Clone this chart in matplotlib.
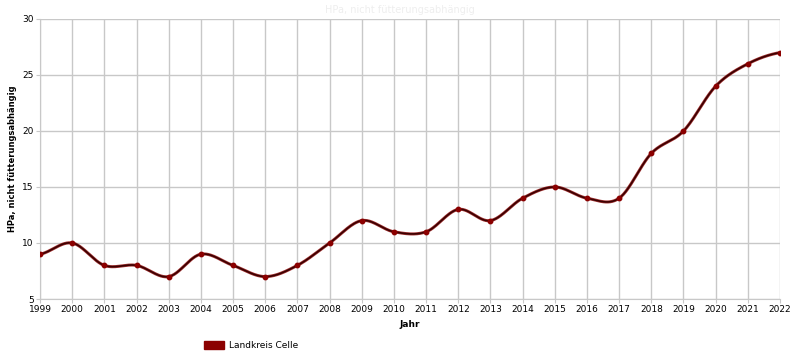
import numpy as np
import matplotlib.pyplot as plt
from matplotlib.patches import Patch

years = list(range(1999, 2023))
values = [9, 10, 8, 8, 7, 9, 8, 7, 8, 10, 12, 11, 11, 13, 12, 14, 15, 14, 14, 18, 20, 24, 26, 27]
series_name = "Landkreis Celle"
title = "HPa, nicht fütterungsabhängig"
ylabel = "HPa, nicht fütterungsabhängig"
xlabel = "Jahr"

line_color = "#3c0000"
marker_color = "#8b0000"

def spline_path(xs, ys, n=30):
    # Catmull-Rom style smooth curve through the points
    xs = np.asarray(xs, float); ys = np.asarray(ys, float)
    m = len(xs)
    tang = np.zeros(m)
    for i in range(m):
        if 0 < i < m-1:
            tang[i] = (ys[i+1] - ys[i-1]) / (xs[i+1] - xs[i-1])
        elif i == 0:
            tang[i] = (ys[1] - ys[0]) / (xs[1] - xs[0]) * 0.5
        else:
            tang[i] = (ys[-1] - ys[-2]) / (xs[-1] - xs[-2]) * 0.5
    X = []; Y = []
    t = np.linspace(0, 1, n)
    for i in range(m-1):
        h = xs[i+1] - xs[i]
        h00 = 2*t**3 - 3*t**2 + 1; h10 = t**3 - 2*t**2 + t
        h01 = -2*t**3 + 3*t**2; h11 = t**3 - t**2
        yy = h00*ys[i] + h10*h*tang[i] + h01*ys[i+1] + h11*h*tang[i+1]
        X.extend(xs[i] + t*h); Y.extend(yy)
    return np.array(X), np.array(Y)

fig = plt.figure(figsize=(8, 3.63), dpi=100)
ax = fig.add_axes([0.05, 0.1763, 0.925, 0.7714])

sx, sy = spline_path(years, values)
ax.plot(sx, sy, color=marker_color, lw=2.2, zorder=3, alpha=0.8)
ax.plot(sx, sy, color=line_color, lw=1.2, zorder=3)
ax.plot(years, values, 'o', color=marker_color, ms=3.2, zorder=4)

ax.set_xlim(1999, 2022)
ax.set_ylim(5, 30)
ax.set_xticks(years)
ax.set_xticklabels([str(y) for y in years], fontsize=6.5)
ax.set_yticks([5, 10, 15, 20, 25, 30])
ax.set_yticklabels(["5", "10", "15", "20", "25", "30"], fontsize=6.5)
ax.grid(True, color="#c8c8c8", lw=1)
ax.set_axisbelow(True)
for s in ["top", "right"]:
    ax.spines[s].set_visible(False)
ax.spines["left"].set_color("#c8c8c8")
ax.spines["bottom"].set_color("#c8c8c8")
ax.tick_params(length=3, color="#c8c8c8", pad=1.5)
ax.set_ylabel(ylabel, fontsize=6, fontweight="bold", labelpad=4)
ax.set_xlabel(xlabel, fontsize=6.5, fontweight="bold", labelpad=4)
fig.text(0.5, 0.985, title, ha="center", va="top", fontsize=7, color="#eeeeee")

handle = Patch(facecolor=marker_color, edgecolor=marker_color)
fig.legend([handle], [series_name], loc="center left", bbox_to_anchor=(0.245, 0.048),
           frameon=False, fontsize=6.5, handlelength=2.2, handleheight=1.0, handletextpad=0.6)

fig.savefig("out.png", dpi=100)
